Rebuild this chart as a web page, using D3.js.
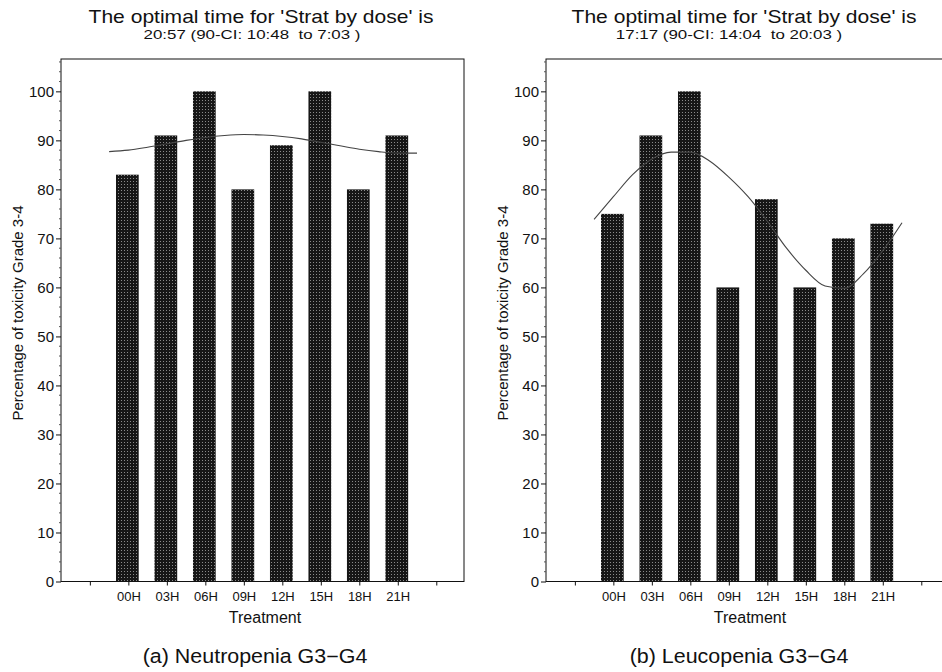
<!DOCTYPE html>
<html>
<head>
<meta charset="utf-8">
<script src="https://cdn.jsdelivr.net/npm/d3@7"></script>
<style>
  html, body { margin: 0; padding: 0; background: #fff; }
  svg { display: block; font-family: "Liberation Sans", Arial, Helvetica, sans-serif; }
  text { white-space: pre; fill: #111; }
</style>
</head>
<body>
<svg id="chart" width="942" height="672"></svg>
<script>
// ---------------- data ----------------
const categories = ["00H", "03H", "06H", "09H", "12H", "15H", "18H", "21H"];
const neutropeniaValues = [83, 91, 100, 80, 89, 100, 80, 91];
const leucopeniaValues = [75, 91, 100, 60, 78, 60, 70, 73];

// fitted curve at half-category steps
const curvePositions = [-0.5, 0, 0.5, 1, 1.5, 2, 2.5, 3, 3.5, 4, 4.5, 5, 5.5, 6, 6.5, 7, 7.5];
const neutropeniaFit = [87.7, 88.0, 88.6, 89.3, 90.0, 90.6, 91.0, 91.2, 91.1, 90.8, 90.3, 89.6, 88.9, 88.2, 87.7, 87.4, 87.4];
const leucopeniaFit = [73.9, 78.5, 83.0, 86.2, 87.6, 87.6, 85.8, 82.5, 78.5, 73.5, 68.0, 63.5, 60.3, 59.8, 62.8, 67.5, 73.2];

const yTicks = [0, 10, 20, 30, 40, 50, 60, 70, 80, 90, 100];
const xTickPositions = [-1, 0, 1, 2, 3, 4, 5, 6, 7, 8];

const titles = ["The optimal time for 'Strat by dose' is", "The optimal time for 'Strat by dose' is"];
const subtitles = ["20:57 (90-CI: 10:48  to 7:03 )", "17:17 (90-CI: 14:04  to 20:03 )"];
const captions = ["(a) Neutropenia G3\u2212G4", "(b) Leucopenia G3\u2212G4"];
const xAxisTitle = "Treatment";
const yAxisTitle = "Percentage of toxicity Grade 3-4";

// ---------------- drawing ----------------
const svg = d3.select("#chart");
const defs = svg.append("defs");
const pat = defs.append("pattern")
  .attr("id", "stipple").attr("patternUnits", "userSpaceOnUse")
  .attr("width", 3).attr("height", 3);
pat.append("rect").attr("width", 3).attr("height", 3).attr("fill", "#161616");
pat.append("rect").attr("x", 1).attr("y", 1).attr("width", 1).attr("height", 1).attr("fill", "#8a8a8a");

const panels = [
  { dx: 0, values: neutropeniaValues, fit: neutropeniaFit, title: titles[0], sub: subtitles[0], caption: captions[0],
    titleX: 261, subX: 252, capX: 255 },
  { dx: 485, values: leucopeniaValues, fit: leucopeniaFit, title: titles[1], sub: subtitles[1], caption: captions[1],
    titleX: 744, subX: 729, capX: 739 }
];

const plotTop = 59, plotBottom = 581.5, plotLeft = 61, plotRight = 464;

function stretchedText(g, x, y, str, size, sx) {
  return g.append("text")
    .attr("transform", `translate(${x},${y}) scale(${sx},1)`)
    .attr("text-anchor", "middle")
    .attr("font-size", size)
    .text(str);
}

panels.forEach(p => {
  const g = svg.append("g");
  const x = d3.scaleLinear().domain([-1.75, 8.72]).range([plotLeft + p.dx, plotRight + p.dx]);
  const y = d3.scaleLinear().domain([0, 106.6]).range([plotBottom, plotTop]);
  const barW = x(0.295) - x(-0.295);

  // titles
  stretchedText(g, p.titleX, 23, p.title, 17.7, 1.19);
  stretchedText(g, p.subX, 39, p.sub, 13.2, 1.28);

  // bars
  g.append("g").selectAll("rect").data(p.values).join("rect")
    .attr("x", (d, i) => x(i) - barW / 2 - 1)
    .attr("width", barW)
    .attr("y", d => y(d))
    .attr("height", d => y(0) - y(d))
    .attr("fill", "url(#stipple)");

  // plot frame
  g.append("rect")
    .attr("x", x.range()[0]).attr("y", plotTop)
    .attr("width", x.range()[1] - x.range()[0]).attr("height", plotBottom - plotTop)
    .attr("fill", "none").attr("stroke", "#111").attr("stroke-width", 1);

  // y axis
  const yAxis = d3.axisLeft(y).tickValues(yTicks).tickSize(5).tickPadding(2);
  const ya = g.append("g").attr("transform", `translate(${x.range()[0]},0)`).call(yAxis);
  ya.select(".domain").remove();
  ya.selectAll("text").attr("font-size", 15).attr("font-family", null).attr("fill", "#111");
  ya.selectAll("line").attr("stroke", "#111");
  const minor = d3.range(0, 107, 2).filter(v => v % 10 !== 0);
  g.append("g").selectAll("line").data(minor).join("line")
    .attr("x1", x.range()[0] - 2).attr("x2", x.range()[0])
    .attr("y1", d => y(d)).attr("y2", d => y(d))
    .attr("stroke", "#555");

  // x axis
  const xAxis = d3.axisBottom(x).tickValues(xTickPositions).tickSize(4).tickPadding(6)
    .tickFormat(d => (d >= 0 && d < categories.length) ? categories[d] : "");
  const xa = g.append("g").attr("transform", `translate(0,${plotBottom})`).call(xAxis);
  xa.select(".domain").remove();
  xa.selectAll("text").attr("font-size", 13).attr("font-family", null).attr("fill", "#111");
  xa.selectAll("line").attr("stroke", "#111");

  // fitted curve
  const pts = curvePositions.map((c, i) => [c, p.fit[i]]);
  g.append("path")
    .datum(pts)
    .attr("d", d3.line().x(d => x(d[0])).y(d => y(d[1])).curve(d3.curveMonotoneX))
    .attr("fill", "none").attr("stroke", "#444").attr("stroke-width", 1.1);

  // axis titles
  g.append("text")
    .attr("x", 265 + p.dx).attr("y", 623)
    .attr("text-anchor", "middle").attr("font-size", 16)
    .text(xAxisTitle);
  g.append("text")
    .attr("transform", `translate(${23 + p.dx},313) rotate(-90)`)
    .attr("text-anchor", "middle").attr("font-size", 15)
    .text(yAxisTitle);

  // caption
  stretchedText(g, p.capX, 663, p.caption, 19.5, 1.1);
});
</script>
</body>
</html>
